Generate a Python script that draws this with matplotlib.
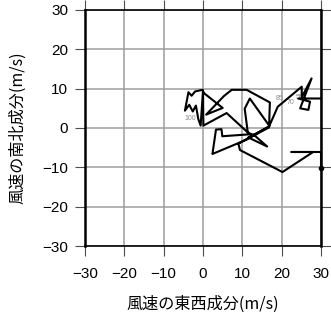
import matplotlib
matplotlib.use("Agg")
import matplotlib.pyplot as plt

# wind components (m/s), traced along the hodograph
u = [30.0, 24.2, 27.2, 26.8, 24.7, 27.6, 25.1, 25.1, 19.0, 16.8,
     17.0, 11.1, 7.3, 5.3, 0.8, 5.0, 0.2, -0.1, -2.0, -2.9,
     -3.7, -4.6, -3.5, -2.6, -1.8, -1.2, -0.6, 0.0, 0.1, 6.0,
     11.9, 4.9, 4.7, 3.3, 2.4, 11.0, 16.8, 11.5, 16.3, 13.0,
     11.4, 10.6, 11.9, 16.9, 9.0, 9.4, 20.2, 28.0, 22.5, 30.0, 30.0]
v = [7.5, 7.5, 6.7, 4.6, 5.0, 12.6, 7.8, 10.5, 5.4, 0.4,
     6.5, 9.7, 9.7, 8.1, 3.4, 5.1, 8.9, 9.7, 9.3, 8.2,
     9.1, 4.4, 5.9, 4.2, 5.7, 2.3, 0.6, 9.5, 0.6, 3.8,
     -1.6, -2.1, -0.3, -0.4, -6.6, -3.0, 0.2, -2.4, -4.7, -1.8,
     -1.2, 4.9, 7.5, 0.5, -4.0, -5.6, -11.2, -6.1, -6.1, -6.1, -10.2]

# level labels
lab_text = ["100", "85", "70", "55"]
lab_u = [-3.3, 19.5, 22.3, 24.6]
lab_v = [2.3, 7.6, 6.4, 7.8]

ticks = [-30, -20, -10, 0, 10, 20, 30]

plt.rcParams['font.family'] = ['Liberation Sans', 'Noto Sans CJK JP', 'DejaVu Sans']

fig = plt.figure(figsize=(3.31, 3.18), dpi=100)
ax = fig.add_axes([0.2568, 0.2264, 0.713, 0.7422])

ax.set_xlim(-30, 30)
ax.set_ylim(-30, 30)
ax.set_xticks(ticks)
ax.set_yticks(ticks)
ax.grid(True, color='0.62', lw=1.1)
ax.set_axisbelow(True)

ax.plot(u, v, color='black', lw=1.5, clip_on=False, zorder=3)
ax.plot(u[-1], v[-1], 'o', color='black', ms=3, clip_on=False, zorder=3)

for t, x, y in zip(lab_text, lab_u, lab_v):
    ax.text(x, y, t, fontsize=5, color='0.55', ha='center', va='center', zorder=2)

ax.tick_params(direction='out', length=7, width=0.8, color='0.3',
               labelsize=11, top=True, right=True)
ax.tick_params(axis='x', pad=8)
ax.tick_params(axis='y', pad=5)

for side in ['left', 'right']:
    ax.spines[side].set_linewidth(1.8)
for side in ['top', 'bottom']:
    ax.spines[side].set_linewidth(1.2)

ax.set_xlabel('風速の東西成分(m/s)', fontsize=11.6, family=['Noto Sans CJK JP', 'DejaVu Sans'], labelpad=11)
ax.set_ylabel('風速の南北成分(m/s)', fontsize=11.6, family=['Noto Sans CJK JP', 'DejaVu Sans'], labelpad=12)

fig.savefig('out.png', dpi=100)
